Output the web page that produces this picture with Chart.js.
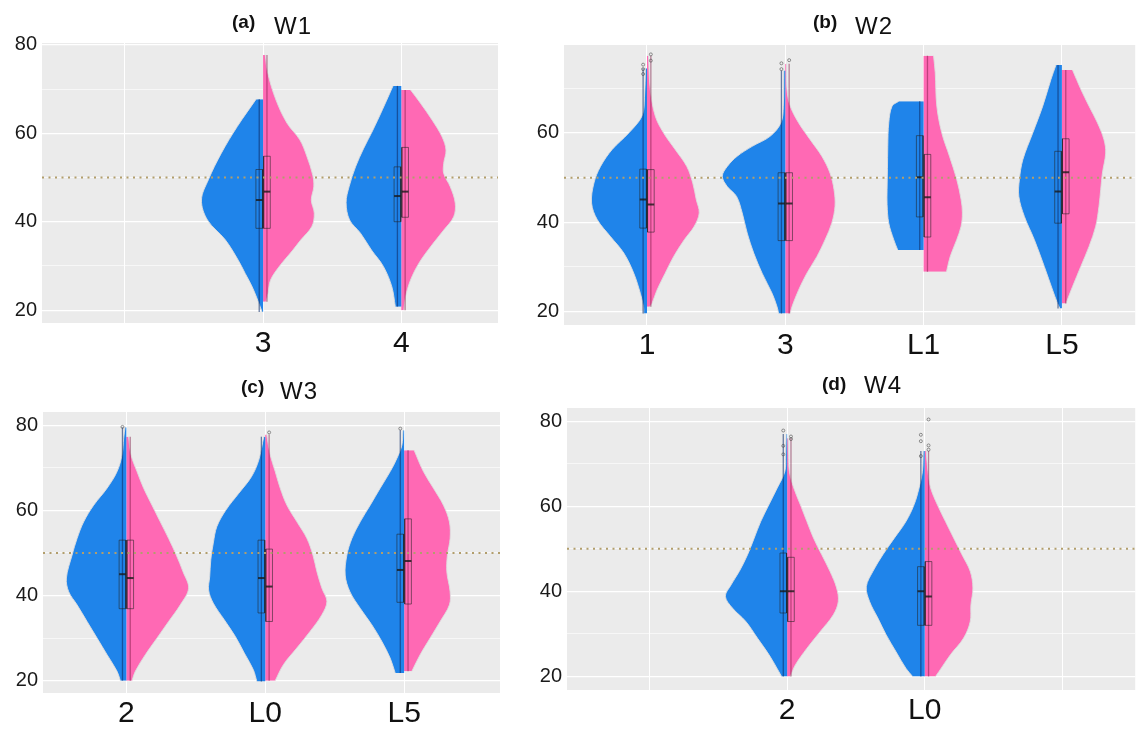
<!DOCTYPE html>
<html><head><meta charset="utf-8">
<script src="https://cdn.jsdelivr.net/npm/chart.js@4.4.1/dist/chart.umd.min.js"></script>
<style>
html,body{margin:0;padding:0;background:#fff;}
#wrap{position:relative;width:1140px;height:729px;overflow:hidden;background:#fff;}
canvas{position:absolute;}
.t{position:absolute;font-family:"Liberation Sans",Arial,sans-serif;color:#111;line-height:1;white-space:nowrap;}
.tl{font-weight:bold;font-size:19px;}
.tw{font-size:24px;letter-spacing:1px;}
</style></head><body>
<div id="wrap">
<canvas id="ca" width="510" height="345" style="left:0px;top:25px"></canvas>
<canvas id="cb" width="620" height="343" style="left:520px;top:27px"></canvas>
<canvas id="cc" width="512" height="335" style="left:0px;top:394px"></canvas>
<canvas id="cd" width="620" height="339" style="left:520px;top:390px"></canvas>
<div class="t tl" style="left:232px;top:12px">(a)</div><div class="t tw" style="left:274px;top:14px">W1</div>
<div class="t tl" style="left:813px;top:12px">(b)</div><div class="t tw" style="left:855px;top:14px">W2</div>
<div class="t tl" style="left:241px;top:377px">(c)</div><div class="t tw" style="left:280px;top:379px">W3</div>
<div class="t tl" style="left:822px;top:374px">(d)</div><div class="t tw" style="left:864px;top:373px">W4</div>
</div>
<script>
// ---------- DATA ----------
// y gridlines and labelled breaks
const Y_GRID = [20, 30, 40, 50, 60, 70, 80];
const Y_LABELED = [20, 40, 60, 80];
const REF_VALUE = 50;

// category labels per panel
const catsA = ['', '3', '4'];
const catsB = ['1', '3', 'L1', 'L5'];
const catsC = ['2', 'L0', 'L5'];
const catsD = ['', '2', 'L0', ''];

// violin half profiles: [value, density width]; boxes: [q1, median, q3]; outliers: values
// Panel (a) W1
const a3Blue = [[19.6,1],[22.3,5.5],[25.3,11],[28.3,18],[31.3,25],[35.9,38],[40.4,56],[44.9,62],[49.5,55],[55.5,42],[61.5,26],[67.7,7]];
const a3Pink = [[21.9,3],[23.8,5],[26.8,7.5],[29.8,16],[33.6,30],[35.9,38],[38.9,49],[41.9,51.5],[44.9,48.5],[47.9,51],[50.5,50],[54.8,44],[58.5,37],[62.3,24],[67.5,13],[73.6,4.7],[77.7,2.2]];
const a3BoxBlue = [38.5, 44.9, 51.8];
const a3BoxPink = [38.5, 46.8, 54.8];
const a4Blue = [[20.8,6],[25.3,9.5],[29.9,18],[33.6,30],[37.4,41],[40.4,52],[44.3,55.5],[47.9,52.5],[52.4,46],[56.5,38],[60.5,29],[65.3,19],[70.7,8.3]];
const a4Pink = [[20,2.7],[23,4.3],[26.8,9.3],[30.6,17.7],[34.3,29.3],[38.1,42.7],[41.1,52.7],[44.2,54.3],[47.9,49.3],[50.9,42.7],[53.2,42.7],[56.2,45],[59.2,41],[63,31],[66.8,19.3],[69.8,9.3]];
const a4BoxBlue = [40, 45.8, 52.4];
const a4BoxPink = [41, 46.8, 56.8];

// Panel (b) W2
const b1Blue = [[19.6,3.3],[21.1,3.5],[24.1,6.7],[28.6,13.3],[33.1,23.3],[36.8,36.7],[40.6,50],[44.3,55.7],[48.8,53.3],[52.5,46.7],[56.3,35],[60,18.3],[63.8,5],[68,2.5],[74.5,1.5]];
const b1Pink = [[21.1,3],[21.8,5],[24.8,10],[28.6,18.3],[32.3,26.7],[36.1,37.5],[39.1,47.5],[42.1,52.5],[45.1,49.5],[48.8,46],[52.5,40],[56.3,28.3],[60,16.7],[63.8,8.3],[69.8,3.3],[77.3,1.5]];
const b1BoxBlue = [38.7, 45.1, 51.9];
const b1BoxPink = [37.8, 44.0, 51.8];
const b1OutBlue = [73.2, 74.3, 75.3];
const b1OutPink = [76.2, 77.6];
const b3Blue = [[19.6,6.7],[21.1,8.3],[24.1,13.3],[28.6,23.3],[33.1,31.7],[37.6,38.3],[42.1,43.3],[45.8,49],[48,58.3],[50.3,63.3],[52.5,58.3],[54.8,48.3],[57,33.3],[59.3,15],[62.3,4.3],[66,2],[74,1.5]];
const b3Pink = [[19.6,5],[21.1,6.7],[24.8,13.3],[28.6,21.7],[32.3,31.7],[36.1,40],[39.8,46.7],[43.6,50],[47.3,49],[51,45],[54.8,36.7],[58.5,25],[62.3,13.3],[66,5],[69.8,1.7],[75.5,1.2]];
const b3BoxBlue = [35.9, 44.2, 51.1];
const b3BoxPink = [35.9, 44.2, 51.1];
const b3OutBlue = [74.3, 75.6];
const b3OutPink = [76.3];
const bL1Blue = [[33.8,26],[36.1,30],[39.8,35],[44,36.7],[47.3,36.7],[52,36.3],[57,36],[62.3,35],[66,31.7],[67.1,25]];
const bL1Pink = [[28.9,23],[32.3,26.7],[36.1,33.3],[39.1,37.7],[42.1,39],[45.1,37.7],[49.6,33.3],[54.8,26],[60,18.3],[66,13.3],[73.5,11.7],[77.3,10]];
const bL1BoxBlue = [41.2, 50.1, 59.4];
const bL1BoxPink = [36.7, 45.6, 55.2];
const bL5Blue = [[20.7,2],[21.8,4.3],[24.8,9.3],[30.1,17.7],[36.1,27.7],[41.3,37.7],[45.8,43.3],[49.6,42.7],[54,39.3],[60,29.3],[66,19.3],[72,11],[75.2,6]];
const bL5Pink = [[21.8,4],[25.6,10.7],[30.1,19],[34.6,27.3],[39.1,34],[43.6,37.3],[47.3,39],[51,40.7],[55.5,44],[58.5,42.3],[62.3,35.7],[66,27.3],[69.8,19],[74.1,10.7]];
const bL5BoxBlue = [39.8, 46.9, 55.9];
const bL5BoxPink = [41.9, 51.2, 58.7];

// Panel (c) W3
const c2Blue = [[20,6],[22.2,9.3],[26.1,19.3],[30,29.3],[33.9,39.3],[37.8,49.3],[40.9,57.7],[44.1,60],[49.5,54.3],[53.4,49.3],[57.3,42.7],[61.2,32.7],[65.2,19.3],[69.1,9.3],[73,4.3],[76.9,2.7],[79.5,1.3]];
const c2Pink = [[20,5.7],[22.2,9],[26.1,19],[30,30.7],[33.9,42.3],[37.8,54],[41.7,62.3],[45.6,56.7],[49.5,50],[53.4,42.3],[57.3,34],[61.2,25.7],[65.2,17.3],[69.1,10.7],[73,4.7],[77.3,2.3]];
const c2BoxBlue = [36.9, 45, 53];
const c2BoxPink = [36.9, 44.1, 53];
const c2OutBlue = [79.6];
const cL0Blue = [[19.8,8.4],[22.6,12],[26.5,21],[30.4,30],[34.3,41],[38.2,52],[41.3,56.7],[44.4,55.6],[48.4,54.5],[52.3,52],[56.2,48.4],[60.1,39.3],[64,26.5],[67.9,13.8],[71.8,6.5],[77.3,1.5]];
const cL0Pink = [[20,10],[23.8,18.3],[27.7,31.7],[31.6,45],[35.5,56.7],[38.6,61.7],[41.7,56.7],[45.6,51.7],[49.5,47.7],[53.4,41.7],[57.3,31.7],[61.2,21.7],[65.2,15],[69.1,10],[73,5],[77.8,1.5]];
const cL0BoxBlue = [35.9, 44.1, 53];
const cL0BoxPink = [33.9, 42.1, 50.9];
const cL0OutPink = [78.3];
const cL5Blue = [[21.8,9],[25.3,14],[29.2,22.3],[33.1,32.3],[37,44],[40.9,54.3],[44.8,59],[49.5,57.3],[53.4,52.3],[57.3,44],[61.2,34],[65.2,24],[69.1,14],[72.2,7.3],[75.3,2.3],[78.8,1.2]];
const cL5Pink = [[22.2,7.7],[26.1,16],[30,26],[33.9,36],[37.8,45.3],[40.9,46],[45.6,42.7],[49.5,43.3],[53.4,46],[57.3,45.3],[61.2,39.3],[65.2,29.3],[69.1,19.3],[74.1,10]];
const cL5BoxBlue = [38.4, 46, 54.4];
const cL5BoxPink = [38, 48.1, 58];
const cL5OutBlue = [79.2];

// Panel (d) W4
const d2Blue = [[20,5.7],[21.1,8.3],[25.1,18.3],[29,30],[32.9,41.7],[36,55],[38.8,62.3],[41.5,56.7],[44.7,48.3],[48.6,40],[52.5,33.3],[56.4,26.7],[60.4,18.3],[64.3,10],[68.2,2.3],[72,1.5],[77,1]];
const d2Pink = [[20,3.3],[22.7,8.3],[26.6,20],[30.5,33.3],[34.5,46.7],[37.6,51.7],[40.8,50],[44.7,43.3],[48.6,35],[52.5,26.7],[56.4,20],[60.4,13.3],[64.3,6.7],[68.2,2.3],[72,1.5],[76,1]];
const d2BoxBlue = [34.9, 40, 49];
const d2BoxPink = [32.9, 40, 48];
const d2OutBlue = [72.2, 74.2, 77.8];
const d2OutPink = [75.8, 76.4];
const dL0Blue = [[20,12.3],[21.9,19],[25.8,29],[29.8,39],[33.7,47.3],[37.6,55.7],[41.1,59],[44.7,52.3],[48.6,42.3],[52.5,30.7],[56.4,19],[60.4,10.7],[64.3,5.7],[68.2,2.3],[73,1.5]];
const dL0Pink = [[20,11],[21.1,14.3],[25.1,26],[29,39.3],[32.9,46],[36.8,46.7],[40.8,48.7],[44.7,46],[48.6,37.7],[52.5,29.3],[56.4,21],[60.4,12.7],[64.3,6],[68.2,3.3],[73,1.5]];
const dL0BoxBlue = [32, 40, 45.8];
const dL0BoxPink = [32, 38.8, 47];
const dL0OutBlue = [71.8, 75.3, 76.8];
const dL0OutPink = [73.3, 74.3, 80.4];

// ---------- STYLE / LAYOUT ----------
const FONT = '"Liberation Sans", Arial, sans-serif';
const BLUE = '#1f84ea';
const PINK = '#ff69b4';
const DENSITY_TO_X = 1 / 139;   // density width -> category units
const BOX_IN = 0.004, BOX_OUT = 0.052;

const plotBg = {
  id: 'plotBg',
  beforeDraw(chart) {
    const {ctx, chartArea: a} = chart;
    ctx.save();
    ctx.fillStyle = '#ebebeb';
    ctx.fillRect(a.left, a.top, a.right - a.left, a.bottom - a.top);
    ctx.restore();
  }
};

function violin(pos, blue, pink, boxBlue, boxPink, outBlue, outPink) {
  return {pos, blue, pink, blueBox: boxBlue, pinkBox: boxPink, blueOut: outBlue || [], pinkOut: outPink || []};
}

function buildChart(id, g, cats, violins) {
  const ds = [];
  ds.push({data: [{x: g.xMin, y: REF_VALUE}, {x: g.xMax, y: REF_VALUE}], borderColor: 'rgba(178,158,108,1)',
    borderWidth: 2, borderDash: [2, 4.5], pointRadius: 0, fill: false, order: 0, tension: 0});
  violins.forEach(v => {
    const c = v.pos;
    [['blue', -1, BLUE, 'rgba(15,45,105,0.6)'], ['pink', 1, PINK, 'rgba(125,25,70,0.5)']].forEach(([k, s, col, wcol]) => {
      const prof = v[k];
      ds.push({data: prof.map(([y, w]) => ({x: c + s * w * DENSITY_TO_X, y})), fill: {value: c},
        backgroundColor: col, borderColor: 'rgba(222,222,222,0.9)', borderWidth: 1, pointRadius: 0,
        tension: 0.35, order: 5});
      const box = v[k + 'Box'];
      const x0 = c + s * BOX_IN, x1 = c + s * BOX_OUT, xm = (x0 + x1) / 2;
      ds.push({data: [{x: xm, y: prof[0][0]}, {x: xm, y: prof[prof.length - 1][0]}], borderColor: wcol,
        borderWidth: 1.3, pointRadius: 0, fill: false, order: 3, tension: 0});
      ds.push({data: [{x: x0, y: box[0]}, {x: x1, y: box[0]}, {x: x1, y: box[2]}, {x: x0, y: box[2]}, {x: x0, y: box[0]}],
        borderColor: 'rgba(35,35,35,0.55)', borderWidth: 1, pointRadius: 0, fill: false, order: 2, tension: 0});
      ds.push({data: [{x: x0, y: box[1]}, {x: x1, y: box[1]}], borderColor: 'rgba(25,25,25,0.8)',
        borderWidth: 2, pointRadius: 0, fill: false, order: 1, tension: 0});
      const outs = v[k + 'Out'];
      if (outs.length) {
        ds.push({data: outs.map(y => ({x: xm, y})), showLine: false, pointRadius: 1.5, pointBorderWidth: 0.8,
          pointBorderColor: 'rgba(70,70,70,0.7)', pointBackgroundColor: 'rgba(0,0,0,0)', fill: false, order: 1});
      }
    });
  });

  return new Chart(document.getElementById(id), {
    type: 'line',
    data: {datasets: ds},
    options: {
      indexAxis: 'y', responsive: false, animation: false, events: [],
      layout: {padding: {top: g.padTop, right: g.padRight, left: 0, bottom: 0}},
      plugins: {legend: {display: false}, tooltip: {enabled: false}, title: {display: false}},
      scales: {
        x: {type: 'linear', position: 'bottom', min: g.xMin, max: g.xMax, bounds: 'data',
          afterBuildTicks: s => { s.ticks = cats.map((_, i) => ({value: i + 1})); },
          afterFit: s => { s.height = g.xAxisH; },
          ticks: {autoSkip: false, maxRotation: 0, minRotation: 0, padding: 3, color: '#111',
            font: {family: FONT, size: 30}, callback: v => cats[Math.round(v) - 1]},
          grid: {color: '#ffffff', lineWidth: 1, drawTicks: false}, border: {display: false}},
        y: {type: 'linear', position: 'left', min: g.yMin, max: g.yMax, bounds: 'data',
          afterBuildTicks: s => { s.ticks = Y_GRID.filter(v => v >= g.yMin && v <= g.yMax).map(v => ({value: v})); },
          afterFit: s => { s.width = g.yAxisW; },
          ticks: {autoSkip: false, padding: 5, color: '#1a1a1a', font: {family: FONT, size: 20},
            callback: v => Y_LABELED.includes(v) ? String(v) : ''},
          grid: {color: '#ffffff', lineWidth: c => (c.tick && Y_LABELED.includes(c.tick.value)) ? 1.2 : 0.6, drawTicks: false},
          border: {display: false}}
      }
    },
    plugins: [plotBg]
  });
}

buildChart('ca', {xMin: 0.4, xMax: 3.7, yMin: 17.1, yMax: 80.4, padTop: 18, padRight: 12, xAxisH: 47, yAxisW: 42}, catsA, [
  violin(2, a3Blue, a3Pink, a3BoxBlue, a3BoxPink),
  violin(3, a4Blue, a4Pink, a4BoxBlue, a4BoxPink)
]);
buildChart('cb', {xMin: 0.4, xMax: 4.53, yMin: 17.0, yMax: 79.7, padTop: 18, padRight: 0, xAxisH: 45, yAxisW: 44}, catsB, [
  violin(1, b1Blue, b1Pink, b1BoxBlue, b1BoxPink, b1OutBlue, b1OutPink),
  violin(2, b3Blue, b3Pink, b3BoxBlue, b3BoxPink, b3OutBlue, b3OutPink),
  violin(3, bL1Blue, bL1Pink, bL1BoxBlue, bL1BoxPink),
  violin(4, bL5Blue, bL5Pink, bL5BoxBlue, bL5BoxPink)
]);
buildChart('cc', {xMin: 0.4, xMax: 3.69, yMin: 17.1, yMax: 83.1, padTop: 18, padRight: 12, xAxisH: 36, yAxisW: 43}, catsC, [
  violin(1, c2Blue, c2Pink, c2BoxBlue, c2BoxPink, c2OutBlue),
  violin(2, cL0Blue, cL0Pink, cL0BoxBlue, cL0BoxPink, [], cL0OutPink),
  violin(3, cL5Blue, cL5Pink, cL5BoxBlue, cL5BoxPink, cL5OutBlue)
]);
buildChart('cd', {xMin: 0.4, xMax: 4.53, yMin: 16.8, yMax: 83.1, padTop: 18, padRight: 0, xAxisH: 39, yAxisW: 47}, catsD, [
  violin(2, d2Blue, d2Pink, d2BoxBlue, d2BoxPink, d2OutBlue, d2OutPink),
  violin(3, dL0Blue, dL0Pink, dL0BoxBlue, dL0BoxPink, dL0OutBlue, dL0OutPink)
]);
</script>
</body></html>
